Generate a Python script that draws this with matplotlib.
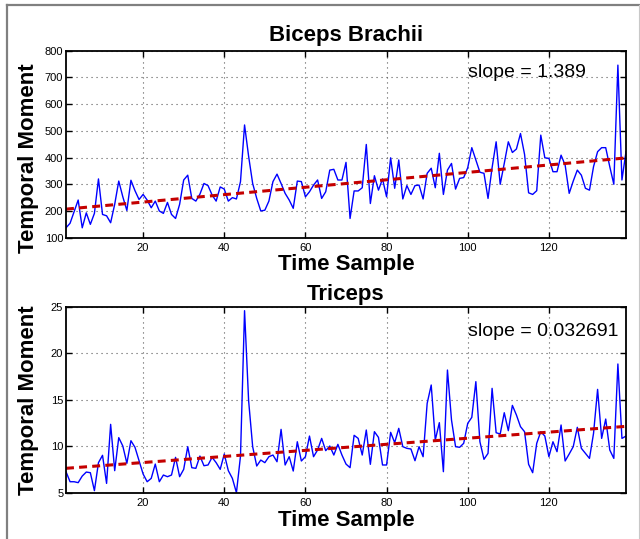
import numpy as np
import matplotlib.pyplot as plt
from matplotlib.lines import Line2D

plt.rcParams['font.family'] = ['Liberation Sans', 'DejaVu Sans']

# time samples 1..139
samples = np.arange(1, 140)

biceps = [137, 154, 197, 241, 137, 193, 150, 191, 320, 187,
          182, 156, 225, 312, 253, 202, 315, 276, 243, 262,
          241, 212, 237, 200, 191, 232, 187, 172, 225, 316,
          334, 247, 237, 263, 303, 295, 260, 237, 290, 282,
          237, 250, 245, 310, 522, 405, 303, 247, 200, 203,
          237, 310, 338, 303, 266, 241, 210, 312, 310, 253,
          272, 297, 316, 247, 272, 353, 356, 316, 316, 382,
          172, 275, 275, 287, 449, 228, 332, 278, 320, 253,
          399, 285, 391, 245, 295, 262, 295, 297, 245, 341,
          360, 287, 416, 262, 353, 378, 282, 322, 325, 362,
          437, 391, 345, 341, 247, 362, 459, 300, 378, 459,
          419, 432, 490, 412, 268, 262, 276, 484, 399, 397,
          347, 347, 409, 372, 266, 312, 353, 334, 285, 278,
          366, 422, 437, 437, 366, 300, 746, 316, 422]

triceps = [7.26, 6.18, 6.18, 6.08, 6.79, 7.22, 7.15, 5.22, 8.23, 9.02,
           6.00, 12.35, 7.37, 10.92, 10.02, 8.16, 10.59, 9.88, 8.44, 7.01,
           6.18, 6.54, 8.08, 6.18, 6.90, 6.72, 6.90, 8.80, 6.72, 7.51,
           9.95, 7.69, 7.62, 8.94, 7.90, 7.98, 8.80, 8.23, 7.51, 9.16,
           7.37, 6.54, 5.00, 8.94, 24.57, 14.9, 9.95, 7.87, 8.51, 8.23,
           8.87, 9.05, 8.33, 11.81, 7.98, 8.87, 7.33, 10.48, 8.41, 8.87,
           11.09, 8.87, 9.59, 10.84, 9.52, 10.02, 9.05, 10.20, 9.05, 8.08,
           7.69, 11.17, 10.84, 9.05, 11.74, 8.05, 11.56, 10.95, 7.98, 7.98,
           11.49, 10.38, 11.92, 9.95, 9.77, 9.70, 8.44, 9.95, 8.87, 14.60,
           16.58, 10.66, 12.53, 7.26, 18.19, 12.81, 9.95, 9.88, 10.31, 12.46,
           13.10, 16.94, 10.48, 8.59, 9.23, 16.22, 11.45, 11.31, 13.60, 11.67,
           14.39, 13.35, 12.10, 11.56, 8.05, 7.15, 10.31, 11.56, 11.09, 8.87,
           10.48, 9.41, 12.28, 8.41, 9.16, 9.95, 12.03, 9.77, 9.23, 8.69,
           11.38, 16.11, 10.84, 12.92, 9.59, 8.69, 18.84, 10.84, 11.09]

# linear fits (slope, intercept) and their labels
biceps_fit = (1.389, 205.6)
triceps_fit = (0.032691, 7.59)
slope_labels = ['slope = 1.389', 'slope = 0.032691']

titles = ['Biceps Brachii', 'Triceps']
yticks_top = [100, 200, 300, 400, 500, 600, 700, 800]
yticks_bottom = [5, 10, 15, 20, 25]
xticks = [20, 40, 60, 80, 100, 120]

fig = plt.figure(figsize=(6.4, 5.39), dpi=100)
ax1 = fig.add_axes([66 / 640, 1 - 237.7 / 539, 560 / 640, 187 / 539])
ax2 = fig.add_axes([66 / 640, 1 - 492.7 / 539, 560 / 640, 186 / 539])


def draw(ax, y, fit, title, label, yticks, ylim, text_y, title_pad, xlab_y, ylab_y):
    ax.plot(samples, y, color='#0000ff', lw=1.0)
    slope, icpt = fit
    ax.plot(samples, slope * samples + icpt, color='#c40000', lw=2.2,
            dashes=(2.6, 1.7))
    ax.set_xlim(1, 139)
    ax.set_ylim(*ylim)
    ax.set_xticks(xticks)
    ax.set_yticks(yticks)
    ax.tick_params(direction='in', top=True, right=True, length=4,
                   width=1, labelsize=8)
    ax.tick_params(axis='x', pad=4)
    ax.tick_params(axis='y', pad=2)
    ax.grid(True, color='0.35', linestyle=(0, (1, 3.5)), lw=0.8)
    for s in ax.spines.values():
        s.set_linewidth(1.3)
    ax.set_title(title, fontsize=16, fontweight='bold', pad=title_pad)
    ax.set_xlabel('Time Sample', fontsize=16, fontweight='bold')
    ax.set_ylabel('Temporal Moment', fontsize=16, fontweight='bold')
    ax.xaxis.set_label_coords(0.5, xlab_y)
    ax.yaxis.set_label_coords(-0.049, ylab_y)
    ax.text(100, text_y, label, fontsize=14, va='baseline')


draw(ax1, biceps, biceps_fit, titles[0], slope_labels[0], yticks_top,
     (100, 800), 702, 7, -0.088, 0.426)
draw(ax2, triceps, triceps_fit, titles[1], slope_labels[1], yticks_bottom,
     (5, 25), 21.8, 4.5, -0.095, 0.5)

# grey frame round the figure
fig.add_artist(Line2D([6.5 / 640, 6.5 / 640], [0, 1 - 5 / 539],
                      transform=fig.transFigure, color='#808080', lw=1.6))
fig.add_artist(Line2D([6.5 / 640, 638.5 / 640], [1 - 5 / 539, 1 - 5 / 539],
                      transform=fig.transFigure, color='#808080', lw=1.6))
fig.add_artist(Line2D([638.5 / 640, 638.5 / 640], [0, 1 - 5 / 539],
                      transform=fig.transFigure, color='#c8c8c8', lw=0.8))

fig.savefig('out.png', dpi=100)
